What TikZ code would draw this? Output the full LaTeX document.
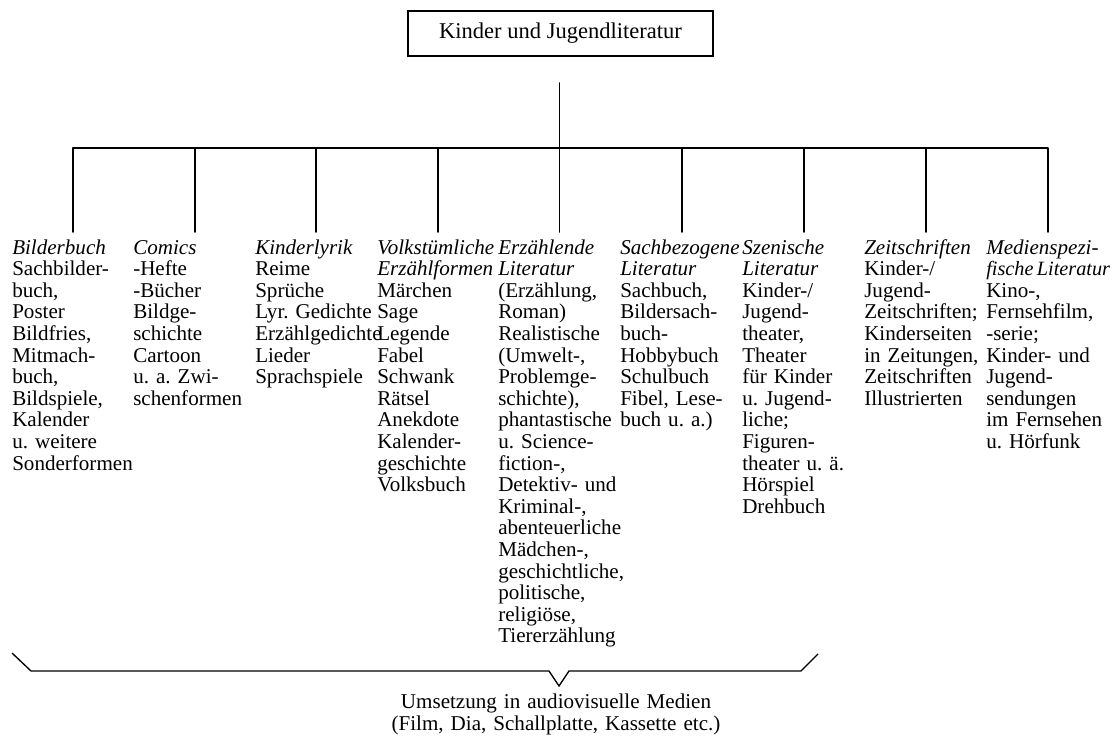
\documentclass[tikz,border=0pt]{standalone}
\usepackage{fontspec}
\setmainfont{Liberation Serif}
\begin{document}
\hyphenpenalty=10000 \exhyphenpenalty=10000 \frenchspacing
\begin{tikzpicture}[x=0.75pt,y=-0.75pt,
  txt/.style={font=\fontsize{15.8}{16.2}\selectfont\frenchspacing},
  col/.style={txt, anchor=base west, inner sep=0pt, text width=150pt, align=left},
  ln/.style={line width=1.2pt, line cap=round, line join=round},
  bracepath/.style={line width=1pt, line join=miter}]
\useasboundingbox (0,0) rectangle (1116,735);

\node[draw, line width=0.9pt, minimum width=228.75pt, minimum height=33.75pt, inner sep=0pt,
      font=\fontsize{16.9}{18}\selectfont] (title) at (560.5,33.5) {Kinder und Jugendliteratur};

% columns
\node[col] (c1) at (12,254) {\textit{Bilderbuch}\\Sachbilder-\\buch,\\Poster\\Bildfries,\\Mitmach-\\buch,\\Bildspiele,\\Kalender\\u. weitere\\Sonderformen};
\node[col] (c2) at (133,254) {\textit{Comics}\\-Hefte\\-Bücher\\Bildge-\\schichte\\Cartoon\\u. a. Zwi-\\schenformen};
\node[col] (c3) at (255,254) {\textit{Kinderlyrik}\\Reime\\Sprüche\\Lyr. Gedichte\\Erzählgedichte\\Lieder\\Sprachspiele};
\node[col] (c4) at (377,254) {\textit{Volkstümliche}\\\textit{Erzählformen}\\Märchen\\Sage\\Legende\\Fabel\\Schwank\\Rätsel\\Anekdote\\Kalender-\\geschichte\\Volksbuch};
\node[col] (c5) at (498,254) {\textit{Erzählende}\\\textit{Literatur}\\(Erzählung,\\Roman)\\Realistische\\(Umwelt-,\\Problemge-\\schichte),\\phantastische\\u. Science-\\fiction-,\\Detektiv- und\\Kriminal-,\\abenteuerliche\\Mädchen-,\\geschichtliche,\\politische,\\religiöse,\\Tiererzählung};
\node[col] (c6) at (620,254) {\textit{Sachbezogene}\\\textit{Literatur}\\Sachbuch,\\Bildersach-\\buch-\\Hobbybuch\\Schulbuch\\Fibel, Lese-\\buch u. a.)};
\node[col] (c7) at (742,254) {\textit{Szenische}\\\textit{Literatur}\\Kinder-/\\Jugend-\\theater,\\Theater\\für Kinder\\u. Jugend-\\liche;\\Figuren-\\theater u. ä.\\Hörspiel\\Drehbuch};
\node[col] (c8) at (864,254) {\textit{Zeitschriften}\\Kinder-/\\Jugend-\\Zeitschriften;\\Kinderseiten\\in Zeitungen,\\Zeitschriften\\Illustrierten};
\node[col] (c9) at (986,254) {\textit{Medienspezi-}\\\textit{\fontsize{15.2}{16.2}\selectfont fische\hspace{2.5pt}Literatur}\\Kino-,\\Fernsehfilm,\\-serie;\\Kinder- und\\Jugend-\\sendungen\\im Fernsehen\\u. Hörfunk};

% comb
\coordinate (trunk) at (559.5,83);
\foreach \i/\x in {1/73,2/195,3/316,4/438,5/559.5,6/682,7/804,8/926,9/1048} {
  \coordinate (t\i) at (\x,148);
  \coordinate (b\i) at (\x,232);
}
\draw[ln] (trunk) -- (b5);
\draw[ln] (b1) -- (t1) -- (t9) -- (b9);
\foreach \i in {2,3,4,6,7,8} { \draw[ln] (t\i) -- (b\i); }

% brace
\coordinate (bl) at (12,653);
\coordinate (bl2) at (31,671);
\coordinate (vl) at (549,671);
\coordinate (tip) at (559,686);
\coordinate (vr) at (569,671);
\coordinate (br2) at (801,671);
\coordinate (br) at (818,654);
\draw[bracepath] (bl) -- (bl2) -- (vl) -- (tip) -- (vr) -- (br2) -- (br);

\node[txt, anchor=base, inner sep=0pt, text width=375pt, align=center,
      font=\fontsize{15.8}{16.5}\selectfont] (av) at (556,708)
  {Umsetzung in audiovisuelle Medien\\(Film, Dia, Schallplatte, Kassette etc.)};
\end{tikzpicture}
\end{document}
